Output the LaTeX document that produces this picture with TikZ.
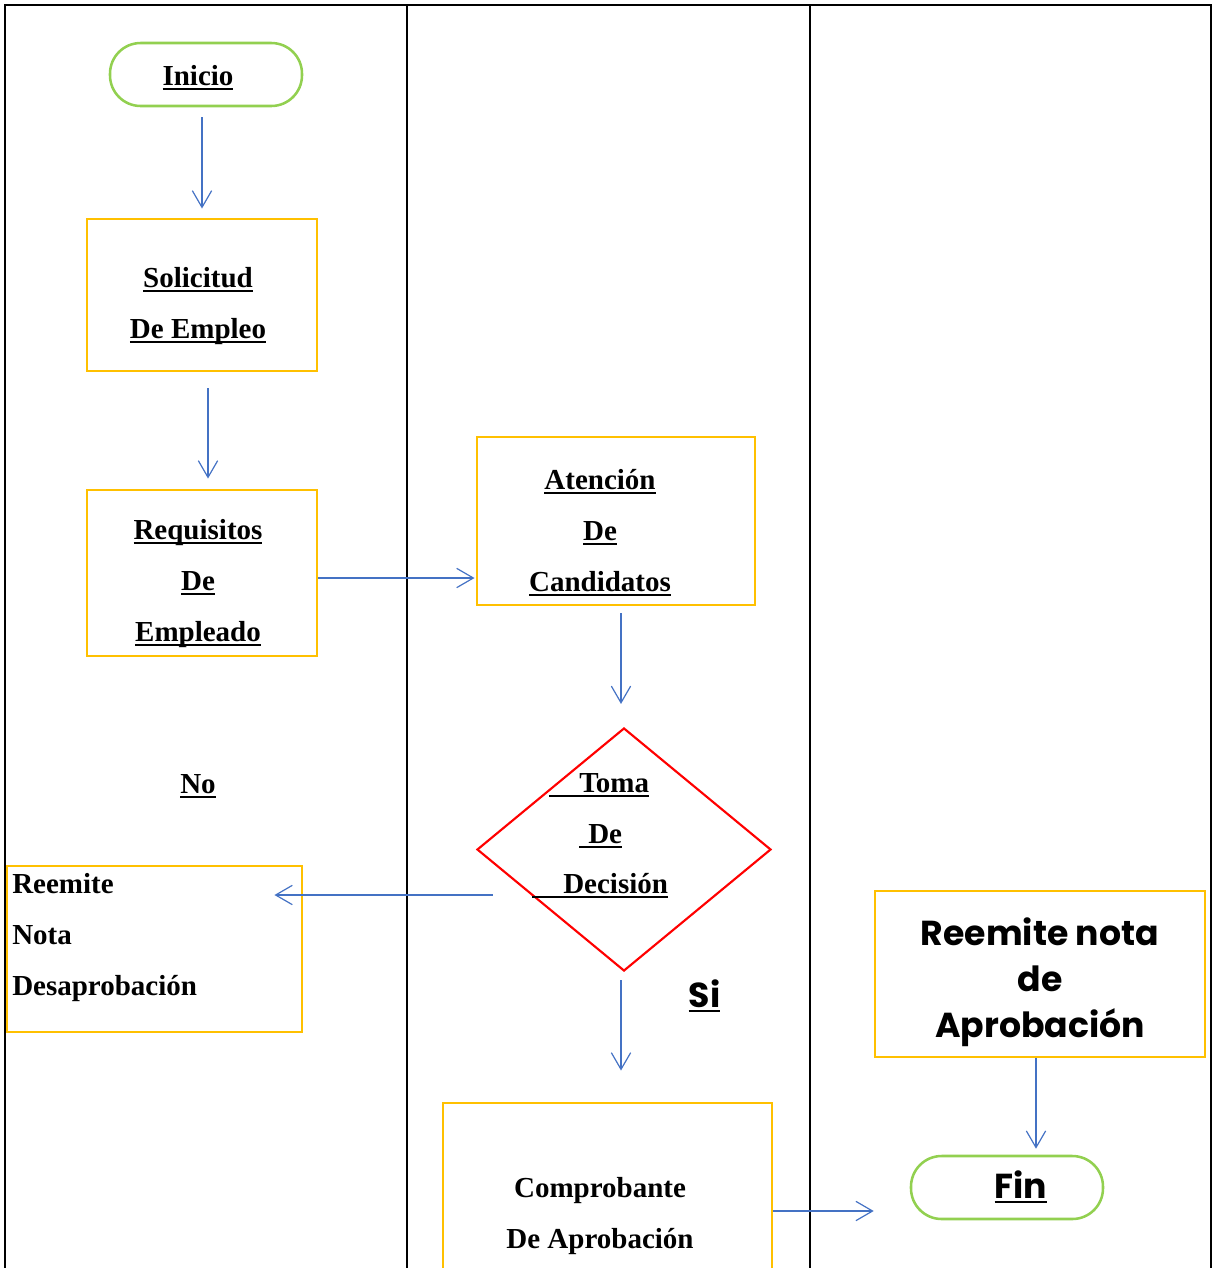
\documentclass[tikz,border=0pt]{standalone}
\usepackage{fontspec}
\setmainfont{Liberation Serif}
\newfontfamily\gothic{Poppins}
\usetikzlibrary{arrows.meta,shapes.geometric,fit}
\newcommand\ulx[1]{\setbox0=\hbox{#1}\rlap{\rule[-4.1pt]{\wd0}{2pt}}\box0}
\definecolor{boxor}{HTML}{FFC000}
\definecolor{termgr}{HTML}{92D050}
\definecolor{arrbl}{HTML}{4472C4}
\definecolor{decred}{HTML}{FF0000}
\tikzset{
  frame/.style={draw=black,line width=1.6pt},
  procbox/.style={draw=boxor,line width=2.2pt,rectangle,inner sep=0pt},
  termbox/.style={draw=termgr,line width=1.9pt,rectangle,rounded corners=23pt,inner sep=0pt},
  decbox/.style={draw=decred,line width=1.6pt,diamond,inner sep=0pt},
  arr/.style={draw=arrbl,line width=0.9pt,-{Straight Barb[length=12.5pt,width=14.5pt,line width=0.9pt]}},
  tx/.style={inner sep=0pt,font=\fontsize{21.75}{38.25}\selectfont\bfseries,align=center},
  gx/.style={inner sep=0pt,font=\gothic\fontsize{26}{34.5}\selectfont\bfseries,align=center},
}
\begin{document}
\begin{tikzpicture}[x=0.75pt,y=-0.75pt]
\useasboundingbox (0,0) rectangle (1212,1268);
% swimlane frame
\draw[frame] (5,1268) -- (5,5) -- (1211,5) -- (1211,1268);
\draw[frame] (407,5) -- (407,1268);
\draw[frame] (810,5) -- (810,1268);

% shapes
\node[termbox,fit={(110,43) (302,106)}] (ini) {};
\node[procbox,fit={(87,219) (317,371)}] (sol) {};
\node[procbox,fit={(87,490) (317,656)}] (req) {};
\node[procbox,fit={(477,437) (755,605)}] (aten) {};
\node[decbox,minimum width=220.5pt,minimum height=182.25pt] (dec) at (624,849.5) {};
\node[procbox,fit={(7,866) (302,1032)}] (rem) {};
\node[procbox,fit={(443,1103) (772,1300)}] (comp) {};
\node[procbox,fit={(875,891) (1205,1057)}] (rapr) {};
\node[termbox,fit={(911,1156) (1103,1219)}] (fin) {};

% texts (base anchor = baseline of the last line)
\node[tx,anchor=base] (iniT) at (198,85) {\ulx{Inicio}};
\node[tx,anchor=base] (solT) at (198,338) {\ulx{Solicitud}\\\ulx{De Empleo}};
\node[tx,anchor=base] (reqT) at (198,641) {\ulx{Requisitos}\\\ulx{De}\\\ulx{Empleado}};
\node[tx,anchor=base] (atenT) at (600,591) {\ulx{Atención}\\\ulx{De}\\\ulx{Candidatos}};
\node[tx,anchor=base] (noT) at (198,793) {\ulx{No}};
\node[tx,anchor=base west] (decT1) at (549,792) {\ulx{\hspace*{22.5pt}Toma}};
\node[tx,anchor=base west] (decT2) at (579,843) {\ulx{\hspace*{6.75pt}De}};
\node[tx,anchor=base west] (decT3) at (532,893) {\ulx{\hspace*{23.25pt}Decisión}};
\node[tx,anchor=base west,align=left] (remT) at (12,995) {Reemite\\Nota\\Desaprobación};
\node[tx,anchor=base] (compT) at (600,1248) {Comprobante\\De Aprobación};
\node[gx,anchor=base] (raprT) at (1040,1037) {Reemite nota\\de\\Aprobación};
\node[gx,anchor=base] (finT) at (1021,1198) {\ulx{Fin}};
\node[gx,anchor=base] (siT) at (704.5,1007) {\ulx{Si}};

% connector guides
\coordinate (xa) at (202,0);
\coordinate (xb) at (208,0);
\coordinate (ya) at (0,578);
\coordinate (xc) at (621,0);
\coordinate (yd) at (0,895);
\coordinate (ye) at (0,1211);
\coordinate (xf) at (1036,0);

% connectors
\draw[arr,shorten <=7.5pt,shorten >=6.75pt] (ini.south -| xa) -- (sol.north -| xa);
\draw[arr,shorten <=12pt,shorten >=7.5pt] (sol.south -| xb) -- (req.north -| xb);
\draw[arr,shorten >=0.75pt] (req.east |- ya) -- (aten.west |- ya);
\draw[arr,shorten <=5.25pt,shorten >=17.25pt] (aten.south -| xc) -- (dec.north -| xc);
\draw[arr,shorten <=-12.75pt,shorten >=-21.75pt] (dec.west |- yd) -- (rem.east |- yd);
\draw[arr,shorten <=6pt,shorten >=23.25pt] (dec.south -| xc) -- (comp.north -| xc);
\draw[arr,shorten >=27pt] (comp.east |- ye) -- (fin.west |- ye);
\draw[arr,shorten >=4.5pt] (rapr.south -| xf) -- (fin.north -| xf);
\end{tikzpicture}
\end{document}
